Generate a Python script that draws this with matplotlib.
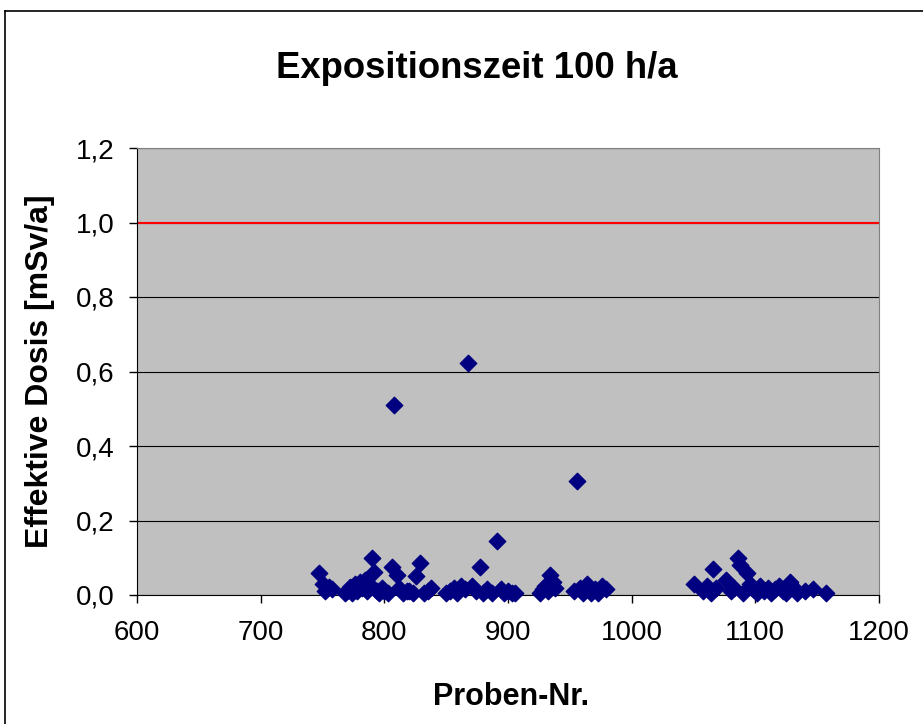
import matplotlib.pyplot as plt
from matplotlib.lines import Line2D
from matplotlib.ticker import FuncFormatter

plt.rcParams['font.family'] = ['Liberation Sans', 'DejaVu Sans']

# Probennummern und effektive Dosis (mSv/a)
proben = [747, 750, 752, 755, 758, 768, 770, 772, 774, 776, 778, 780, 782, 784,
          786, 788, 790, 792, 794, 796, 798, 800, 803, 806, 808, 810, 812, 815,
          818, 820, 823, 826, 829, 832, 835, 838,
          850, 853, 856, 859, 862, 865, 868, 871, 874, 877, 880, 883, 887, 891,
          894, 897, 900, 903, 906,
          926, 928, 930, 932, 934, 936, 938,
          953, 956, 958, 961, 964, 967, 970, 973, 976, 979,
          1050, 1058, 1061, 1064, 1066, 1068, 1076, 1080, 1083, 1086, 1088, 1090,
          1093, 1096, 1098, 1101, 1104, 1107, 1110, 1113, 1116, 1119, 1122, 1125,
          1128, 1131, 1134, 1140, 1147, 1157]
dosis = [0.059, 0.03, 0.012, 0.022, 0.015, 0.005, 0.012, 0.022, 0.006, 0.03,
         0.01, 0.035, 0.02, 0.04, 0.012, 0.03, 0.1, 0.062, 0.01, 0.006, 0.02,
         0.01, 0.006, 0.075, 0.51, 0.054, 0.02, 0.006, 0.012, 0.01, 0.006, 0.05,
         0.085, 0.006, 0.012, 0.02,
         0.006, 0.01, 0.02, 0.006, 0.025, 0.015, 0.623, 0.025, 0.01, 0.075,
         0.006, 0.015, 0.006, 0.145, 0.015, 0.006, 0.01, 0.006, 0.006,
         0.006, 0.015, 0.025, 0.01, 0.054, 0.035, 0.02,
         0.01, 0.306, 0.02, 0.006, 0.03, 0.006, 0.015, 0.006, 0.025, 0.015,
         0.03, 0.01, 0.025, 0.006, 0.07, 0.02, 0.04, 0.01, 0.02, 0.1, 0.08,
         0.006, 0.06, 0.03, 0.015, 0.006, 0.025, 0.01, 0.02, 0.006, 0.015,
         0.025, 0.01, 0.006, 0.035, 0.02, 0.006, 0.01, 0.015, 0.006]
grenzwert = 1.0

W, H = 923, 724
fig = plt.figure(figsize=(W / 100, H / 100), dpi=100)
ax = fig.add_axes([137/W, 1-595/H, (879-137)/W, (595-148)/H])

ax.set_facecolor('#c0c0c0')
ax.set_xlim(600, 1200)
ax.set_ylim(0, 1.2)
ax.set_xticks(range(600, 1201, 100))
ax.set_yticks([0, 0.2, 0.4, 0.6, 0.8, 1.0, 1.2])
ax.yaxis.set_major_formatter(FuncFormatter(lambda v, p: f'{v:.1f}'.replace('.', ',')))
ax.grid(axis='y', color='black', linewidth=0.8)
ax.set_axisbelow(True)

ax.axhline(grenzwert, color='#ff0000', linewidth=1.5, zorder=2)
ax.scatter(proben, dosis, marker='D', s=70, color='#000080', zorder=3,
           clip_on=False)

for s in ['top', 'right']:
    ax.spines[s].set_color('#808080')
for s in ['left', 'bottom']:
    ax.spines[s].set_color('black')
ax.tick_params(direction='out', length=6, labelsize=20, width=1)
ax.tick_params(axis='x', pad=12)
ax.tick_params(axis='y', pad=10)

fig.text(477/W, 1-68/H, 'Expositionszeit 100 h/a', fontsize=26.3,
         fontweight='bold', ha='center', va='center')
fig.text(511/W, 1-697/H, 'Proben-Nr.', fontsize=22, fontweight='bold',
         ha='center', va='center')
fig.text(40/W, 1-371/H, 'Effektive Dosis [mSv/a]', fontsize=23,
         fontweight='bold', ha='center', va='center', rotation=90)

# Rahmen (rechts und unten abgeschnitten)
fig.lines.append(Line2D([5/W, 5/W], [0, 1-11/H], transform=fig.transFigure,
                        color='black', linewidth=1.2))
fig.lines.append(Line2D([5/W, 1], [1-11/H, 1-11/H], transform=fig.transFigure,
                        color='black', linewidth=1.2))

fig.savefig('out.png', dpi=100)
